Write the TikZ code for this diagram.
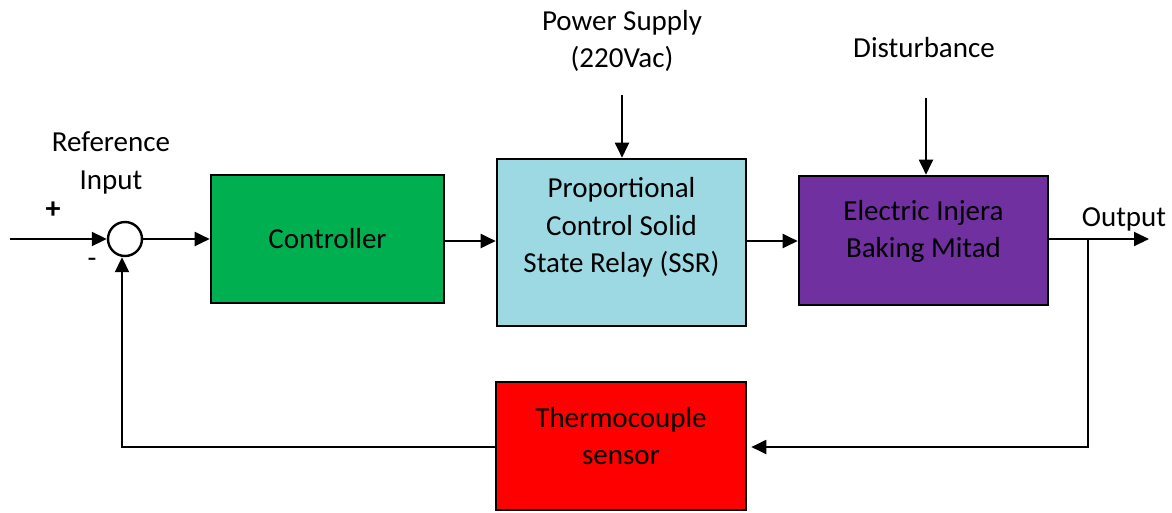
\documentclass[tikz,border=0pt]{standalone}
\usepackage{fontspec}
\setmainfont{Carlito}
\usetikzlibrary{arrows.meta,calc}
\definecolor{ctrlgreen}{RGB}{0,176,80}
\definecolor{ssrblue}{RGB}{157,217,227}
\definecolor{mitadpurple}{RGB}{112,48,160}
\definecolor{sensred}{RGB}{255,0,0}
\begin{document}
\begin{tikzpicture}[x=1pt,y=-1pt,
  box/.style={draw=black,line width=2.6pt,rectangle,inner sep=0pt},
  lbl/.style={align=center,font=\fontsize{29}{37.5}\selectfont,inner sep=0pt},
  conn/.style={line width=2pt,-{Triangle[length=15pt,width=14pt]}},
  wire/.style={line width=2pt}]
\useasboundingbox (0,0) rectangle (1172,512);
% boxes
\node[box,fill=ctrlgreen,minimum width=233pt,minimum height=128pt] (ctrl) at (327.5,239) {};
\node[lbl] at (ctrl.center) {Controller};
\node[box,fill=ssrblue,minimum width=249pt,minimum height=167pt] (ssr) at (621.5,242.5) {};
\node[lbl] at ($(ssr.center)+(0,-15)$) {Proportional\\Control Solid\\State Relay (SSR)};
\node[box,fill=mitadpurple,minimum width=249pt,minimum height=129pt] (mitad) at (923.5,240.5) {};
\node[lbl] at ($(mitad.center)+(0,-9)$) {Electric Injera\\Baking Mitad};
\node[box,fill=sensred,minimum width=250pt,minimum height=128pt] (sens) at (621,446) {};
\node[lbl] at ($(sens.center)+(0,-10)$) {Thermocouple\\sensor};
% summing junction
\node[draw=black,line width=2.4pt,circle,minimum size=34pt,inner sep=0pt,fill=white] (sum) at (125,239) {};
% labels
\node[lbl] (refl) at (111,163) {Reference\\Input};
\node[lbl,font=\fontsize{30}{30}\bfseries] (plus) at (53,210) {+};
\node[lbl] (minus) at (92,263) {-};
\node[lbl] (psl) at (622,41) {Power Supply\\(220Vac)};
\node[lbl] (distl) at (924,48) {Disturbance};
\node[lbl] (outl) at (1124,219) {Output};
% coordinates
\coordinate (in) at (10,239);
\coordinate (ps) at (622,95);
\coordinate (dist) at (926,98);
\coordinate (out) at (1149,239);
\coordinate (tap) at (1088,239);
\coordinate (fbr) at (1088,447);
\coordinate (fbl) at (122,447);
% connectors
\draw[conn] (in) -- (sum.west);
\draw[conn] (sum.east) -- (ctrl.west);
\draw[conn] (ctrl.east |- 0,241) -- (ssr.west |- 0,241);
\draw[conn] (ssr.east |- 0,241) -- (mitad.west |- 0,241);
\draw[conn] (mitad.east |- out) -- (out);
\draw[conn] (ps) -- (ssr.north -| ps);
\draw[conn] (dist) -- (mitad.north -| dist);
\draw[conn,shorten >=4pt] (tap) -- (fbr) -- (sens.east |- fbr);
\draw[conn] (sens.west |- fbl) -- (fbl) -- (sum.south -| fbl);
\end{tikzpicture}
\end{document}
